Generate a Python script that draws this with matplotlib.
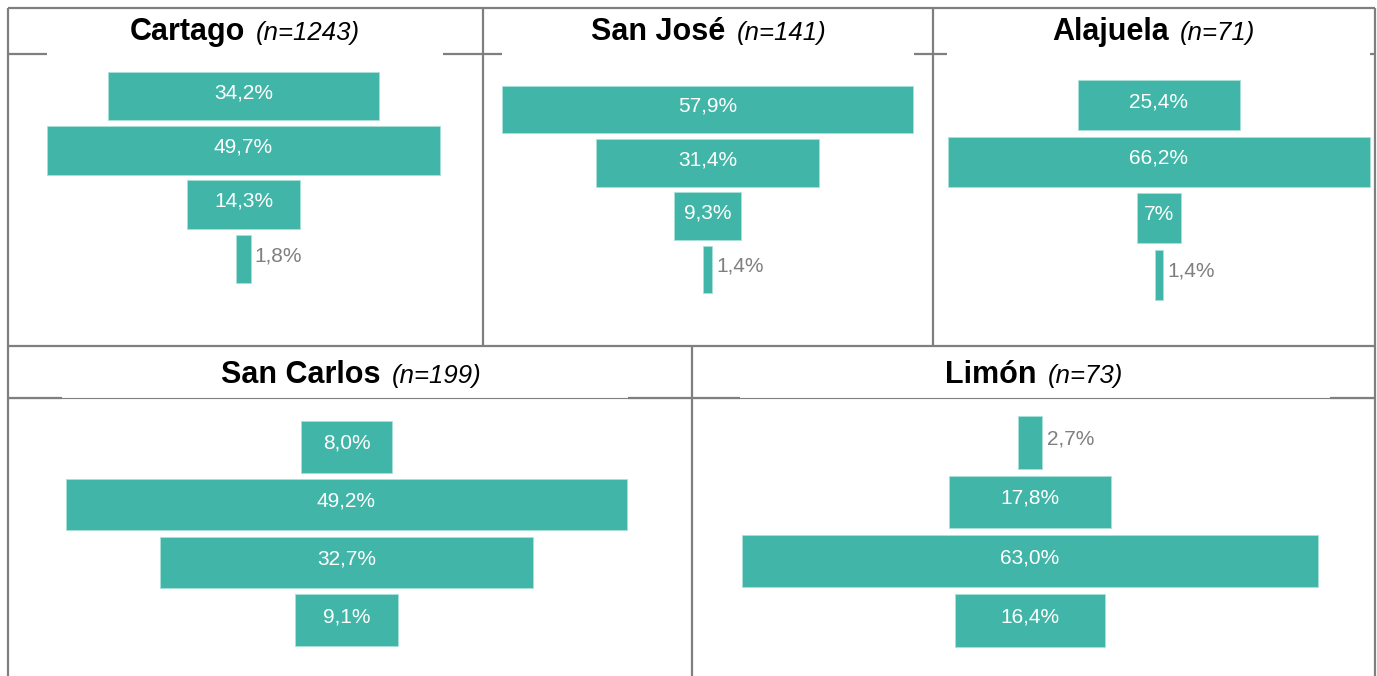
import matplotlib.pyplot as plt
from matplotlib.offsetbox import TextArea, HPacker, AnnotationBbox

plt.rcParams['font.family'] = ['Liberation Sans', 'DejaVu Sans']

# data
regions = ["Cartago", "San José", "Alajuela", "San Carlos", "Limón"]
n_sizes = [1243, 141, 71, 199, 73]
cartago = [34.2, 49.7, 14.3, 1.8]
san_jose = [57.9, 31.4, 9.3, 1.4]
alajuela = [25.4, 66.2, 7.0, 1.4]
san_carlos = [8.0, 49.2, 32.7, 9.1]
limon = [2.7, 17.8, 63.0, 16.4]
cartago_lbl = ["34,2%", "49,7%", "14,3%", "1,8%"]
san_jose_lbl = ["57,9%", "31,4%", "9,3%", "1,4%"]
alajuela_lbl = ["25,4%", "66,2%", "7%", "1,4%"]
san_carlos_lbl = ["8,0%", "49,2%", "32,7%", "9,1%"]
limon_lbl = ["2,7%", "17,8%", "63,0%", "16,4%"]

values = [cartago, san_jose, alajuela, san_carlos, limon]
labels = [cartago_lbl, san_jose_lbl, alajuela_lbl, san_carlos_lbl, limon_lbl]

W, H = 1377, 676
teal = '#41B6A8'
grey = '#7f7f7f'

fig = plt.figure(figsize=(W / 100, H / 100), dpi=100)
bg = fig.add_axes([0, 0, 1, 1])
bg.set_xlim(0, W)
bg.set_ylim(H, 0)
bg.axis('off')


def seg(x0, x1, y0, y1, lw=1.6):
    bg.plot([x0, x1], [y0, y1], color=grey, lw=lw, solid_capstyle='butt')


# table grid
seg(8, 1375, 8, 8)
seg(8, 1375, 346, 346)
seg(8, 8, 8, 676)
seg(1375, 1375, 8, 676)
seg(483, 483, 8, 346)
seg(933, 933, 8, 346)
seg(692, 692, 346, 676)
# lines under the titles (partly hidden by the charts)
for x0, x1 in [(8, 47), (443, 502), (914, 947), (1370, 1375)]:
    seg(x0, x1, 54, 54)
seg(8, 1375, 398, 398, lw=0.8)
for x0, x1 in [(8, 62), (628, 740), (1330, 1375)]:
    seg(x0, x1, 398, 398)

# title centres (x, y) and chart boxes (left, right, top, bottom) in pixels
title_pos = [(245, 32), (709, 32), (1154, 32), (351, 375), (1034, 375)]
boxes = [(47, 440, 69, 286), (502, 913, 83, 296), (948, 1370, 77, 303),
         (66, 627, 418, 649), (742, 1318, 413, 650)]

for name, n, vals, lbls, (tx, ty), (l, r, t, b) in zip(
        regions, n_sizes, values, labels, title_pos, boxes):
    box = HPacker(children=[
        TextArea(name, textprops=dict(fontsize=22, fontweight='bold')),
        TextArea(f"(n={n})", textprops=dict(fontsize=18.5, fontstyle='italic'))],
        align='baseline', pad=0, sep=8)
    ab = AnnotationBbox(box, (tx, H - ty), xycoords='figure pixels',
                        frameon=False, box_alignment=(0.5, 0.5))
    fig.add_artist(ab)

    ax = fig.add_axes([l / W, 1 - b / H, (r - l) / W, (b - t) / H])
    ax.patch.set_alpha(0)
    pos = list(range(len(vals)))
    half = max(vals) / 2
    ax.barh(pos, vals, left=[-v / 2 for v in vals], height=0.89, color=teal,
            edgecolor='#a9e1d9', linewidth=0.7, clip_on=False)
    ax.set_xlim(-half, half)
    ax.set_ylim(len(vals) - 0.5, -0.5)
    ax.axis('off')
    for i, (v, lab) in enumerate(zip(vals, lbls)):
        if v / max(vals) < 0.07:
            ax.annotate(lab, xy=(v / 2, i - 0.06), xytext=(3, 0),
                        textcoords='offset points', ha='left', va='center',
                        color=grey, fontsize=15)
        else:
            ax.text(0, i - 0.06, lab, ha='center', va='center',
                    color='white', fontsize=15)

fig.savefig('out.png', dpi=100)
